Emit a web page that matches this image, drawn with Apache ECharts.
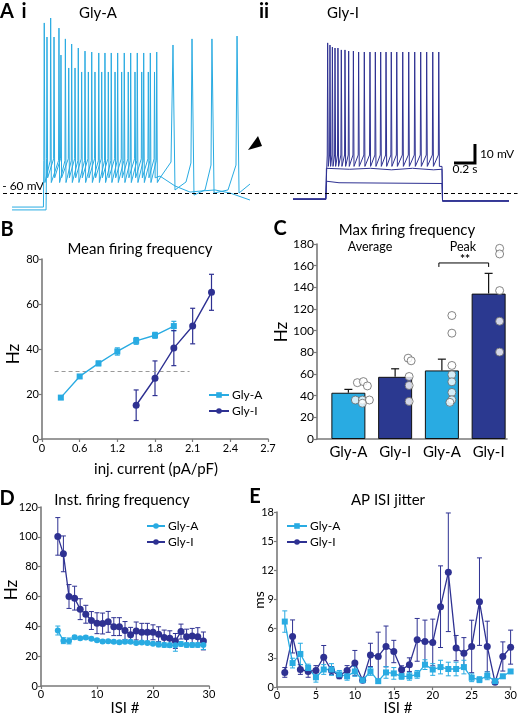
<!DOCTYPE html>
<html><head><meta charset="utf-8">
<script src="https://cdn.jsdelivr.net/npm/echarts@6/dist/echarts.min.js"></script>
<style>html,body{margin:0;padding:0;background:#fff}#c{width:520px;height:717px}</style>
</head><body><div id="c"></div>
<script>
// ================= DATA =================
// Panel A : voltage traces (time in s, membrane potential in mV)
const glyA1Pre = [[0.086,-67.4],[0.385,-67.4]];
const glyA1SpikeT = [0.393,0.454,0.533,0.594,0.654,0.717,0.781,0.845,0.912,0.971,1.031,1.092,1.155,1.216,1.279,1.340,1.403,1.464];
const glyA1Peak = [29.5,32.1,26.8,21.1,18.4,16.3,14.7,14.2,13.7,13.7,13.7,13.7,13.7,13.7,13.7,13.7,13.7,14.2];
const glyA1Thr = -43, glyA1Trough = -54.5;
const glyA1Post = [[1.495,-52.1],[1.600,-43.7],[1.619,17.9],[1.638,-58.4],[1.743,-54.2],[1.790,-44.2],[1.800,21.1],[1.819,-61.1],[1.924,-58.4],[1.981,-45.3],[1.990,21.1],[2.010,-60],[2.143,-58.4],[2.219,-45.3],[2.229,22.6],[2.248,-60],[2.352,-55.3]];

const glyA2Pre = [[0.086,-68.9],[0.410,-68.9]];
const glyA2SpikeT = [0.419,0.486,0.552,0.626,0.686,0.749,0.813,0.876,0.940,1.003,1.067,1.130,1.193,1.257,1.321,1.384,1.443];
const glyA2Peak = [22.1,22.1,12.6,5.8,5.8,3.7,3.7,3.7,3.7,3.7,3.7,3.7,3.7,3.7,3.7,3.7,3.7];
const glyA2Thr = -42, glyA2Trough = -52;
const glyA2Post = [[1.495,-51.1],[1.638,-56.3],[1.781,-59.5],[1.876,-59],[2.019,-58.4],[2.162,-60],[2.352,-63.7]];

const glyI1Pre = [[2.762,-63.2],[3.072,-63.2]];
const glyI1SpikeT = [3.092,3.114,3.137,3.162,3.190,3.222,3.257,3.292,3.337,3.387,3.441,3.495,3.546,3.597,3.648,3.698,3.750,3.807,3.864,3.921,3.978,4.035,4.093,4.150];
const glyI1Peak = [19,17.9,16.8,16.3,16.3,15.3,15.3,14.7,14.7,14.2,14.2,14.2,14.2,14.2,14.2,14.2,14.2,14.2,14.2,14.2,14.2,14.2,14.2,14.2];
const glyI1Thr = -40, glyI1Trough = -46;
const glyI1Post = [[4.165,-45],[4.181,-46],[4.186,-64.2],[4.819,-64.2]];
const glyI2 = [[2.762,-63.4],[3.076,-63.4],[3.080,-47],[3.3,-47.5],[3.5,-47],[3.7,-47.8],[3.9,-47],[4.1,-47.8],[4.181,-47.5],[4.186,-64.4],[4.819,-64.4]];
const glyI3 = [[2.762,-63],[3.076,-63],[3.082,-53.8],[3.2,-54.6],[4.181,-55],[4.186,-64],[4.819,-64]];
const restLevel = -60;
const scaleBar = [[4.295,-44.2],[4.495,-44.2],[4.495,-34.2]]; // 0.2 s x 10 mV

// Panel B : mean firing frequency vs injected current
const bCurrentA = [0.3,0.6,0.9,1.2,1.5,1.8,2.1];
const bHzA = [18.4,27.8,33.6,38.9,43.6,46.1,50.2];
const bErrA = [0.8,0.8,1.0,1.6,1.5,1.3,2.1];
const bCurrentI = [1.5,1.8,2.1,2.4,2.7];
const bHzI = [15.0,27.0,40.4,50.2,65.2];
const bErrI = [6.8,7.7,7.8,7.9,8.0];
const bXTickLabels = ['0','0.6','1.2','1.8','2.1','2.4','2.7'];
const bThreshold = [[0.2,30],[2.35,30]];

// Panel C : max firing frequency
const cCategories = ['Gly-A','Gly-I','Gly-A','Gly-I'];
const cMeans = [42.7,57.4,63.3,134.2];
const cErr = [3.1,7.4,10.4,18.7];
const cDots = [
  [52,53,49,36,36,36,33],
  [74.6,72.2,57.7,49.4,34.7],
  [114,97.7,67.9,59.3,52.8,43,36.2,33.8],
  [176,170.8,137,108.7,80.2]
];
const cSigLevel = 162.5;

// Panel D : instantaneous firing frequency
const dIsi = [3,4,5,6,7,8,9,10,11,12,13,14,15,16,17,18,19,20,21,22,23,24,25,26,27,28,29];
const dHzA = [37.2,30.4,30.2,32.7,32,32.5,31.6,30.7,29.8,30,29.6,29.3,29.6,29.6,28.9,29.1,28.9,28.4,27.8,27.5,27.3,27.3,28.2,27.5,27.5,27.5,27.5];
const dErrA = [3,2,2,1.2,1,1,1,1,1,1,1,1,1,1,1,1,1,1,1.5,1.5,1.5,4,1.5,1.5,1.5,1.5,3];
const dHzI = [100.3,88.6,60,58.9,51.5,48.1,43.9,42.1,41.9,43,39.8,39.8,37.2,34.3,36.9,36,36,36,34.7,32.5,32,30.2,36.5,33.1,33.6,33.1,30.2];
const dErrI = [12.6,12,8,8,7,6,6,7,7,7,6,6,6,5,6,6,6,5,5,5,5,5,5,5,5,6,6];

// Panel E : AP ISI jitter
const eIsi = [1,2,3,4,5,6,7,8,9,10,11,12,13,14,15,16,17,18,19,20,21,22,23,24,25,26,27,28,29,30];
const eMsA = [6.73,2.46,3.4,1.95,1.0,1.8,1.8,1.3,1.1,1.6,0.7,1.6,0.6,1.5,1.4,1.1,1.1,1.3,2.3,1.8,2.05,1.85,1.85,2.05,0.95,0.75,1.15,0.6,1.1,1.6];
const eErrA = [1.1,0.5,1.1,0.4,0.5,0.5,0.6,0.4,0.4,0.5,0.2,0.4,0.2,0.6,0.6,0.3,0.4,0.4,0.5,0.6,0.7,0.7,0.7,0.7,0.4,0.3,0.4,0.2,0.2,0.2];
const eMsI = [1.5,5.2,1.8,1.6,1.7,3.07,1.7,1.15,1.7,2.46,0.7,3.3,3.14,4.17,3.65,1.78,2.3,4.85,4.68,4.58,8.26,11.8,4.0,3.48,4.17,8.78,4.17,0.48,3.14,4.1];
const eErrI = [0.5,1.7,0.5,0.6,0.5,1.2,0.4,0.3,0.5,1.3,0.2,1.2,2.5,2.1,1.15,0.4,0.7,2.2,2.2,2.4,4.2,6.1,1.3,1.6,2.7,4.5,2.6,0.2,1.5,1.75];

// ================= STYLE / BUILD =================
const FONT = 'Lato, "Liberation Sans", sans-serif';
const CA = '#29abe2', CI = '#2e3192', CIbar = '#2b3990';
const AX = '#7a7a7a';

function buildTrace(pre, spikeT, peaks, thr, trough, post) {
  const pts = pre.slice();
  for (let i = 0; i < spikeT.length; i++) {
    const t = spikeT[i];
    pts.push([t - 0.004, thr], [t, peaks[i]], [t + 0.006, trough]);
  }
  return pts.concat(post);
}
function zip(xs, ys) { return xs.map((x, i) => [x, ys[i]]); }
function errData(xs, ys, es) { return xs.map((x, i) => [x, ys[i] - es[i], ys[i] + es[i]]); }

function errRender(color, capW, lw, upOnly) {
  return function (params, api) {
    const x = api.value(0), lo = api.value(1), hi = api.value(2);
    const p1 = api.coord([x, lo]), p2 = api.coord([x, hi]);
    const h = capW / 2;
    const st = { stroke: color, lineWidth: lw };
    const ch = [
      { type: 'line', shape: { x1: p1[0], y1: p1[1], x2: p2[0], y2: p2[1] }, style: st },
      { type: 'line', shape: { x1: p2[0] - h, y1: p2[1], x2: p2[0] + h, y2: p2[1] }, style: st }
    ];
    if (!upOnly) ch.push({ type: 'line', shape: { x1: p1[0] - h, y1: p1[1], x2: p1[0] + h, y2: p1[1] }, style: st });
    return { type: 'group', children: ch };
  };
}

const axisBase = (extra) => Object.assign({
  axisLine: { show: true, onZero: false, lineStyle: { color: AX, width: 1.6 } },
  axisTick: { show: true, length: 3, lineStyle: { color: AX, width: 1.2 } },
  axisLabel: { color: '#000', fontSize: 11, fontFamily: FONT, margin: 3 },
  splitLine: { show: false }
}, extra);

const grids = [
  { left: 3, top: 3, width: 514.5, height: 228 },   // 0 A
  { left: 42, top: 259, width: 226, height: 180 },  // 1 B
  { left: 317, top: 244, width: 190, height: 195 }, // 2 C axes
  { left: 325, top: 244, width: 187, height: 195 }, // 3 C bars
  { left: 41, top: 507, width: 168, height: 179 },  // 4 D
  { left: 277, top: 512, width: 236, height: 175 }  // 5 E
];

const xAxes = [
  { gridIndex: 0, type: 'value', min: 0, max: 4.9, show: false },
  axisBase({ gridIndex: 1, type: 'value', min: 0, max: 3.6, interval: 0.6,
    axisLabel: { color: '#000', fontSize: 11, fontFamily: FONT, margin: 4,
      formatter: (v) => bXTickLabels[Math.round(v / 0.6)] } }),
  axisBase({ gridIndex: 2, type: 'value', min: 0, max: 1, axisTick: { show: false }, axisLabel: { show: false } }),
  { gridIndex: 3, type: 'category', data: cCategories, axisLine: { show: false }, axisTick: { show: false },
    axisLabel: { color: '#000', fontSize: 15, fontFamily: FONT, margin: 6, interval: 0 } },
  axisBase({ gridIndex: 4, type: 'value', min: 0, max: 30, interval: 10 }),
  axisBase({ gridIndex: 5, type: 'value', min: 0, max: 30, interval: 5 })
];
const yAxes = [
  { gridIndex: 0, type: 'value', min: -80, max: 40, show: false },
  axisBase({ gridIndex: 1, type: 'value', min: 0, max: 80, interval: 20 }),
  axisBase({ gridIndex: 2, type: 'value', min: 0, max: 180, interval: 20,
    axisLabel: { color: '#000', fontSize: 12, fontFamily: FONT, margin: 3 } }),
  { gridIndex: 3, type: 'value', min: 0, max: 180, show: false },
  axisBase({ gridIndex: 4, type: 'value', min: 0, max: 120, interval: 20 }),
  axisBase({ gridIndex: 5, type: 'value', min: 0, max: 18, interval: 3 })
];

const traceLine = (name, data, color) => ({
  name, type: 'line', xAxisIndex: 0, yAxisIndex: 0, data, showSymbol: false, symbol: 'none',
  lineStyle: { color, width: 1 }, animation: false, silent: true, z: 2
});

const series = [];
// ---- A
const a1 = traceLine('a1', buildTrace(glyA1Pre, glyA1SpikeT, glyA1Peak, glyA1Thr, glyA1Trough, glyA1Post), CA);
a1.markLine = { silent: true, symbol: 'none', label: { show: false },
  lineStyle: { color: '#000', type: [4, 3], width: 1 }, data: [{ yAxis: restLevel }] };
series.push(a1);
series.push(traceLine('a2', buildTrace(glyA2Pre, glyA2SpikeT, glyA2Peak, glyA2Thr, glyA2Trough, glyA2Post), CA));
series.push(traceLine('i3', glyI3, CI));
series.push(traceLine('i2', glyI2, CI));
series.push(traceLine('i1', buildTrace(glyI1Pre, glyI1SpikeT, glyI1Peak, glyI1Thr, glyI1Trough, glyI1Post), CI));
series.push({ type: 'line', xAxisIndex: 0, yAxisIndex: 0, data: scaleBar, symbol: 'none',
  lineStyle: { color: '#000', width: 3, cap: 'butt', join: 'miter' }, silent: true });

// ---- B
series.push({ type: 'line', xAxisIndex: 1, yAxisIndex: 1, data: bThreshold, symbol: 'none',
  lineStyle: { color: '#999', width: 1.2, type: [4, 3] }, silent: true });
series.push({ type: 'custom', xAxisIndex: 1, yAxisIndex: 1, data: errData(bCurrentA, bHzA, bErrA), renderItem: errRender(CA, 5, 1.2) });
series.push({ type: 'custom', xAxisIndex: 1, yAxisIndex: 1, data: errData(bCurrentI, bHzI, bErrI), renderItem: errRender(CI, 5, 1.2) });
series.push({ name: 'Gly-A', type: 'line', xAxisIndex: 1, yAxisIndex: 1, data: zip(bCurrentA, bHzA),
  symbol: 'rect', symbolSize: 6, itemStyle: { color: CA }, lineStyle: { color: CA, width: 1.4 } });
series.push({ name: 'Gly-I', type: 'line', xAxisIndex: 1, yAxisIndex: 1, data: zip(bCurrentI, bHzI),
  symbol: 'circle', symbolSize: 7, itemStyle: { color: CI }, lineStyle: { color: CI, width: 1.4 } });

// ---- C
const cColors = [CA, CIbar, CA, CIbar];
const cDotJitter = [[9,15,19,7,14,21,14],[13,16,14,14,14],[10,10,10,10,10,10,10,8],[11,11,11,11,11]];
series.push({ type: 'bar', xAxisIndex: 3, yAxisIndex: 3, barWidth: 34,
  data: cMeans.map((v, i) => ({ value: v, itemStyle: { color: cColors[i] } })),
  itemStyle: { borderColor: '#111', borderWidth: 1 } });
series.push({ type: 'custom', xAxisIndex: 3, yAxisIndex: 3,
  data: cMeans.map((v, i) => [i, v, v + cErr[i]]), renderItem: errRender('#111', 8, 1.2, true), z: 3 });
const dotData = [];
cDots.forEach((arr, i) => arr.forEach((v, j) => dotData.push({ value: [i, v], symbolOffset: [cDotJitter[i][j], 0] })));
series.push({ type: 'scatter', xAxisIndex: 3, yAxisIndex: 3, data: dotData, symbol: 'circle', symbolSize: 8,
  itemStyle: { color: '#fff', borderColor: '#666', borderWidth: 1 }, z: 4 });
series.push({ type: 'custom', xAxisIndex: 3, yAxisIndex: 3, data: [[2, 3, cSigLevel]], z: 4,
  renderItem: function (params, api) {
    const p1 = api.coord([api.value(0), api.value(2)]);
    const p2 = api.coord([api.value(1), api.value(2)]);
    return { type: 'polyline', shape: { points: [[p1[0] - 3, p1[1] + 4], [p1[0] - 3, p1[1]], [p2[0], p2[1]], [p2[0], p2[1] + 4]] },
      style: { stroke: '#000', lineWidth: 1, fill: null } };
  } });

// ---- D
series.push({ type: 'custom', xAxisIndex: 4, yAxisIndex: 4, data: errData(dIsi, dHzI, dErrI), renderItem: errRender(CI, 5, 1) });
series.push({ type: 'custom', xAxisIndex: 4, yAxisIndex: 4, data: errData(dIsi, dHzA, dErrA), renderItem: errRender(CA, 5, 1) });
series.push({ name: 'Gly-I ', type: 'line', xAxisIndex: 4, yAxisIndex: 4, data: zip(dIsi, dHzI),
  symbol: 'circle', symbolSize: 7, itemStyle: { color: CI }, lineStyle: { color: CI, width: 1.3 } });
series.push({ name: 'Gly-A ', type: 'line', xAxisIndex: 4, yAxisIndex: 4, data: zip(dIsi, dHzA),
  symbol: 'circle', symbolSize: 6, itemStyle: { color: CA }, lineStyle: { color: CA, width: 1.3 } });

// ---- E
series.push({ type: 'custom', xAxisIndex: 5, yAxisIndex: 5, data: errData(eIsi, eMsI, eErrI), renderItem: errRender(CI, 5, 1) });
series.push({ type: 'custom', xAxisIndex: 5, yAxisIndex: 5, data: errData(eIsi, eMsA, eErrA), renderItem: errRender(CA, 5, 1) });
series.push({ name: 'Gly-I  ', type: 'line', xAxisIndex: 5, yAxisIndex: 5, data: zip(eIsi, eMsI),
  symbol: 'circle', symbolSize: 7, itemStyle: { color: CI }, lineStyle: { color: CI, width: 1.3 } });
series.push({ name: 'Gly-A  ', type: 'line', xAxisIndex: 5, yAxisIndex: 5, data: zip(eIsi, eMsA),
  symbol: 'rect', symbolSize: 6, itemStyle: { color: CA }, lineStyle: { color: CA, width: 1.3 } });

const legendBase = (extra) => Object.assign({ orient: 'vertical', itemWidth: 20, itemHeight: 7, itemGap: 4,
  padding: 0, textStyle: { color: '#000', fontSize: 12, fontFamily: FONT, padding: [0, 0, 0, -2] }, selectedMode: false }, extra);

const texts = [
  ['A', 7, 12, 20, 'bold'], ['i', 24, 12, 20, 'bold'], ['Gly-A', 98, 13, 15], ['ii', 264, 12, 20, 'bold'], ['Gly-I', 343, 13, 15],
  ['- 60 mV', 23, 186, 12], ['10 mV', 497, 154, 12], ['0.2 s', 465, 169, 12],
  ['B', 7, 230, 20, 'bold'], ['Mean firing frequency', 140, 249, 15], ['inj. current (pA/pF)', 156, 469, 15],
  ['C', 280, 229, 20, 'bold'], ['Max firing frequency', 407, 230, 15], ['Average', 370, 247, 12.5], ['Peak', 463, 247, 12.5], ['**', 465, 259, 12, 'bold'],
  ['D', 7, 499, 20, 'bold'], ['Inst. firing frequency', 122, 500, 15], ['ISI #', 125, 708, 15],
  ['E', 255, 497, 20, 'bold'], ['AP ISI jitter', 388, 500, 15], ['ISI #', 398, 708, 15]
];
const rtexts = [['Hz', 14, 354, 17], ['Hz', 282, 332, 17], ['Hz', 12, 590, 17], ['ms', 259, 600, 14]];
const graphic = texts.map(o => ({ type: 'text', x: o[1], y: o[2], silent: true,
  style: { text: o[0], fontSize: o[3], fontWeight: o[4] || 'normal', fontFamily: FONT, fill: '#000', align: 'center', verticalAlign: 'middle' } }))
  .concat(rtexts.map(o => ({ type: 'text', x: o[1], y: o[2], rotation: Math.PI / 2, silent: true,
  style: { text: o[0], fontSize: o[3], fontFamily: FONT, fill: '#000', align: 'center', verticalAlign: 'middle' } })))
  .concat([{ type: 'polygon', silent: true, shape: { points: [[248, 150], [258, 136], [262, 146]] }, style: { fill: '#000' } }]);

const chart = echarts.init(document.getElementById('c'), null, { renderer: 'canvas' });
chart.setOption({
  animation: false,
  backgroundColor: '#fff',
  grid: grids, xAxis: xAxes, yAxis: yAxes, series,
  legend: [
    legendBase({ data: ['Gly-A', 'Gly-I'], left: 208, top: 389 }),
    legendBase({ data: ['Gly-A ', 'Gly-I '], left: 146, top: 520, itemWidth: 18 }),
    legendBase({ data: ['Gly-A  ', 'Gly-I  '], left: 286, top: 520 })
  ],
  graphic
});
</script></body></html>
